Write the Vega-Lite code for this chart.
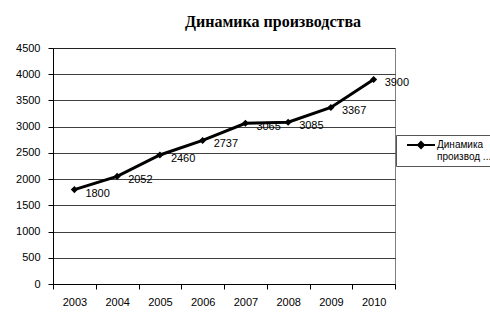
{
  "$schema": "https://vega.github.io/schema/vega-lite/v6.json",
  "width": 342,
  "height": 236,
  "autosize": {"type": "none"},
  "padding": {"left": 53, "top": 48, "right": 95, "bottom": 46},
  "background": "white",
  "title": {
    "text": "Динамика производства",
    "font": "Liberation Serif",
    "fontSize": 16,
    "fontWeight": "bold",
    "color": "black",
    "anchor": "middle",
    "dx": 49,
    "offset": 12
  },
  "data": {
    "values": [
      {"year": "2003", "value": 1800, "series": "Динамика производства"},
      {"year": "2004", "value": 2052, "series": "Динамика производства"},
      {"year": "2005", "value": 2460, "series": "Динамика производства"},
      {"year": "2006", "value": 2737, "series": "Динамика производства"},
      {"year": "2007", "value": 3065, "series": "Динамика производства"},
      {"year": "2008", "value": 3085, "series": "Динамика производства"},
      {"year": "2009", "value": 3367, "series": "Динамика производства"},
      {"year": "2010", "value": 3900, "series": "Динамика производства"}
    ]
  },
  "encoding": {
    "x": {
      "field": "year", "type": "ordinal",
      "scale": {"type": "band", "paddingInner": 0, "paddingOuter": 0},
      "axis": {
        "title": null, "labelAngle": 0, "labelFont": "Liberation Sans", "labelFontSize": 11,
        "labelColor": "black", "domainColor": "black", "tickColor": "black",
        "tickSize": 5, "labelPadding": 7, "tickBand": "extent", "grid": false
      }
    },
    "y": {
      "field": "value", "type": "quantitative",
      "scale": {"domain": [0, 4500], "nice": false},
      "axis": {
        "title": null, "values": [0, 500, 1000, 1500, 2000, 2500, 3000, 3500, 4000, 4500],
        "format": "d",
        "labelFont": "Liberation Sans", "labelFontSize": 11, "labelColor": "black",
        "domainColor": "black", "tickColor": "black", "tickSize": 5, "labelPadding": 8,
        "grid": true, "gridColor": "#000000", "gridOpacity": 0.75
      }
    }
  },
  "layer": [
    {
      "mark": {"type": "line", "strokeWidth": 3},
      "encoding": {
        "color": {
          "field": "series", "type": "nominal",
          "scale": {"range": ["black"]},
          "legend": {
            "title": null, "orient": "none", "legendX": 343, "legendY": 87,
            "strokeColor": "#555555", "padding": 4, "fillColor": "white",
            "symbolType": "M0.2,0H5.8M3,-0.6L3.6,0L3,0.6L2.4,0Z",
            "symbolStrokeWidth": 2, "symbolSize": 100, "symbolFillColor": "black",
            "labelFont": "Liberation Sans", "labelFontSize": 10, "labelColor": "black",
            "labelLineHeight": 13,
            "labelExpr": "['Динамика', 'производ ...']", "labelBaseline": "middle", "labelOffset": 25
          }
        }
      }
    },
    {
      "mark": {"type": "point", "shape": "diamond", "filled": true, "size": 50, "color": "black", "opacity": 1}
    },
    {
      "mark": {"type": "text", "align": "left", "baseline": "middle", "dx": 11, "dy": 4,
               "font": "Liberation Sans", "fontSize": 11, "color": "black"},
      "encoding": {"text": {"field": "value", "type": "quantitative"}}
    }
  ],
  "config": {
    "view": {"stroke": "#808080", "strokeWidth": 1}
  }
}
